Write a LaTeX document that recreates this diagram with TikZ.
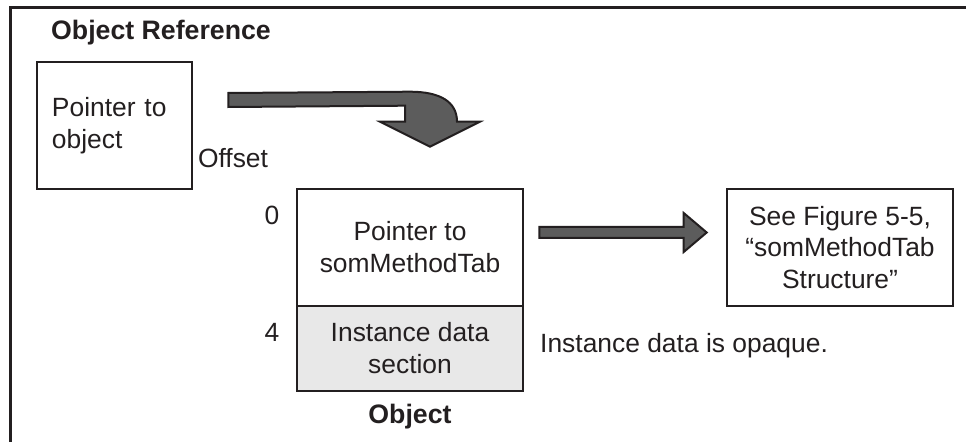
\documentclass[tikz,border=0pt]{standalone}
\usepackage{fontspec}
\setmainfont{Liberation Sans}
\usetikzlibrary{calc}
\definecolor{ink}{RGB}{35,31,32}
\definecolor{arrowfill}{RGB}{92,92,92}
\definecolor{datafill}{RGB}{232,232,232}
\begin{document}
\begin{tikzpicture}[x=1bp,y=-1bp,
  every node/.style={text=ink, font=\fontsize{26.5}{32}\selectfont},
  box/.style={draw=ink, line width=2.6bp, inner sep=0pt, align=center},
  txt/.style={inner sep=0pt, anchor=center, align=center},
  heading/.style={txt, font=\fontsize{26.8}{32}\selectfont\bfseries},
  blockarrow/.style={draw=ink, fill=arrowfill, line width=2bp, line join=miter},
  outerframe/.style={draw=ink, line width=3bp}]

\useasboundingbox (0,0) rectangle (966,442);

% partial frame around the figure
\draw[outerframe] (10,442) -- (10,7.5) -- (966,7.5);

% object reference
\node[heading] (reftitle) at (161,33) {Object Reference};
\node[box, minimum width=155bp, minimum height=127bp, text width=125bp, align=left]
  (ptr) at (114.5,125.5) {Pointer to\\object};

% offsets
\node[txt] (offset) at (233,158) {Offset};
\node[txt] (off0) at (272,215) {0};
\node[txt] (off4) at (272,332) {4};

% object layout
\node[box, minimum width=226bp, minimum height=117bp] (objtop) at (410,247.5)
  {Pointer to\\somMethodTab};
\node[box, fill=datafill, minimum width=226bp, minimum height=85bp] (objdata) at (410,348.5)
  {Instance data\\section};
\node[heading] (objlabel) at (410,417) {Object};

\node[box, minimum width=226bp, minimum height=117bp] (see) at (840,247.5)
  {See Figure 5-5,\\“somMethodTab\\Structure”};
\node[txt, anchor=west] (opaque) at (540,346) {Instance data is opaque.};

% bent block arrow from the reference into the object
\coordinate (bendstart) at ($(ptr.east)+(35,-25.5)$);
\coordinate (bendtip) at ($(objtop.north)+(20,-41)$);
\draw[blockarrow]
  ($(bendstart)+(0,-7)$) -- ($(bendtip)+(-20,-55)$)
  .. controls ($(bendtip)+(10,-55)$) and ($(bendtip)+(27,-45)$) .. ($(bendtip)+(27,-25)$)
  -- ($(bendtip)+(50,-25)$) -- (bendtip) -- ($(bendtip)+(-50,-25)$)
  -- ($(bendtip)+(-25,-25)$) -- ($(bendtip)+(-25,-41)$) -- ($(bendstart)+(0,7)$) -- cycle;

% straight block arrow to the method table
\coordinate (tabstart) at ($(objtop.east)+(15,-15)$);
\coordinate (tabtip) at ($(see.west)+(-19,-15)$);
\draw[blockarrow]
  ($(tabstart)+(0,-5.5)$) -- ($(tabtip)+(-23,-5.5)$) -- ($(tabtip)+(-23,-19.5)$)
  -- (tabtip) -- ($(tabtip)+(-23,19.5)$) -- ($(tabtip)+(-23,5.5)$)
  -- ($(tabstart)+(0,5.5)$) -- cycle;
\end{tikzpicture}
\end{document}
